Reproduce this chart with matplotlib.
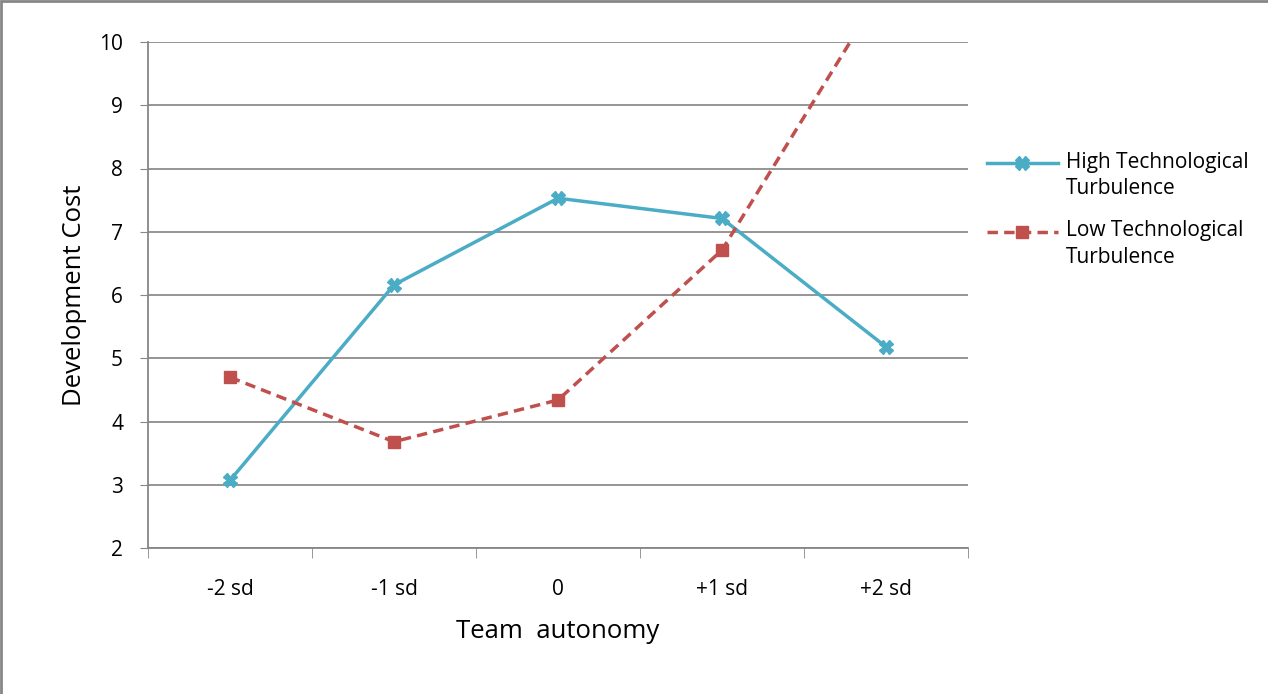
import matplotlib
matplotlib.use("Agg")
import numpy as np
import matplotlib.pyplot as plt
from matplotlib.patches import Rectangle
from matplotlib.legend_handler import HandlerLine2D

# data
categories = ["-2 sd", "-1 sd", "0", "+1 sd", "+2 sd"]
high_turb = [3.07, 6.16, 7.53, 7.21, 5.18]
low_turb = [4.70, 3.68, 4.34, 6.71, 10.92]
y_ticks = [2, 3, 4, 5, 6, 7, 8, 9, 10]

plt.rcParams['font.family'] = ['Open Sans', 'DejaVu Sans']

LEG_FS = 15


# legend handle lined up with the first line of a two line label
class TopLineHandler(HandlerLine2D):
    def create_artists(self, *args, **kwargs):
        artists = super().create_artists(*args, **kwargs)
        for a in artists:
            a.set_ydata(np.asarray(a.get_ydata()) + 0.62 * LEG_FS)
        return artists


fig = plt.figure(figsize=(12.68, 6.94), dpi=100)
ax = fig.add_axes([148/1268, 1-548/694, 820/1268, 506/694])

x = list(range(len(categories)))
h1, = ax.plot(x, high_turb, color="#4bacc6", lw=2.5, marker="X", markersize=10,
              label="High Technological\nTurbulence")
h2, = ax.plot(x, low_turb, color="#c0504d", lw=2.5, ls=(0, (3.0, 1.8)), marker="s",
              markersize=9, label="Low Technological\nTurbulence")

ax.set_xlim(-0.5, len(categories) - 0.5)
ax.set_ylim(2, 10)
ax.set_yticks(y_ticks)
ax.set_xticks(x)
ax.set_xticklabels(categories)
ax.set_xticks([i + 0.5 for i in range(-1, len(categories))], minor=True)
ax.tick_params(axis="x", which="major", length=0, pad=22, labelsize=15)
ax.tick_params(axis="x", which="minor", length=7, color="#868686", direction="out")
ax.tick_params(axis="y", length=6, color="#868686", labelsize=15, pad=12)
ax.yaxis.grid(True, color="#8c8c8c", lw=1.3)
ax.set_axisbelow(True)
for s in ["top", "right"]:
    ax.spines[s].set_visible(False)
for s in ["left", "bottom"]:
    ax.spines[s].set_color("#868686")
    ax.spines[s].set_linewidth(1.3)

ax.set_xlabel("Team  autonomy", fontsize=18.5, labelpad=14)
ax.set_ylabel("Development Cost", fontsize=18.5, labelpad=9)

leg = ax.legend(loc="upper left", bbox_to_anchor=(1.013, 0.80), frameon=False,
                fontsize=LEG_FS, handlelength=3.4, handletextpad=0.4,
                labelspacing=1.0, borderaxespad=0,
                handler_map={h1: TopLineHandler(), h2: TopLineHandler()})
for t in leg.get_texts():
    t.set_linespacing(1.35)

# outer border of the chart
fig.patches.append(Rectangle((0.001, -0.01), 2, 1.008, transform=fig.transFigure,
                             fill=False, ec="#868686", lw=2))

fig.savefig("out.png", dpi=100)
